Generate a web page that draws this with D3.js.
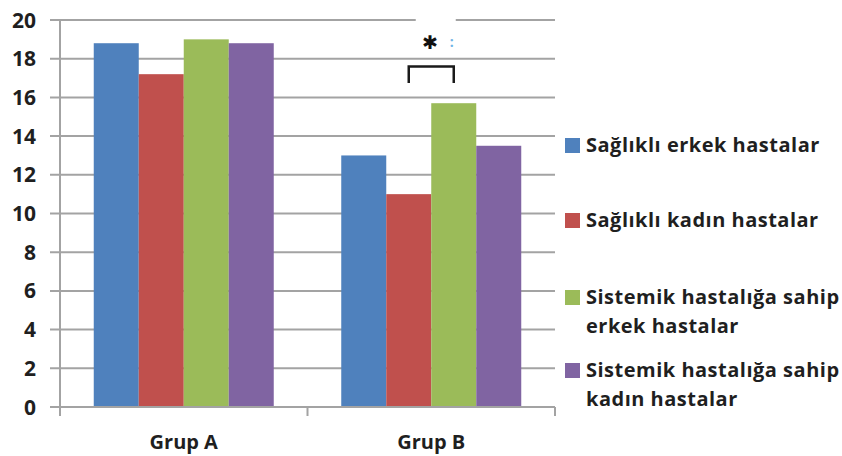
<!DOCTYPE html>
<html>
<head>
<meta charset="utf-8">
<script src="https://cdn.jsdelivr.net/npm/d3@7"></script>
<style>
  html, body { margin: 0; padding: 0; background: #fff; }
  svg text { font-family: "Open Sans", Lato, sans-serif; font-weight: 700; fill: #1f1f1f; }
</style>
</head>
<body>
<svg id="chart" width="842" height="456"></svg>
<script>
// Groups on the x axis
const categories = ["Grup A", "Grup B"];
// Patient series (legend order)
const seriesNames = [
  ["Sağlıklı erkek hastalar"],
  ["Sağlıklı kadın hastalar"],
  ["Sistemik hastalığa sahip", "erkek hastalar"],
  ["Sistemik hastalığa sahip", "kadın hastalar"]
];
const seriesColors = ["#4F81BD", "#C0504D", "#9BBB59", "#8064A2"];
// Values per series, one per group
const healthyMale = [18.8, 13.0];
const healthyFemale = [17.2, 11.0];
const systemicMale = [19.0, 15.7];
const systemicFemale = [18.8, 13.5];
const seriesValues = [healthyMale, healthyFemale, systemicMale, systemicFemale];
// Y axis ticks
const yTicks = [0, 2, 4, 6, 8, 10, 12, 14, 16, 18, 20];
// Significance bracket in Grup B between the red and green bars
const bracket = { group: "Grup B", from: 1, to: 2, top: 17.6, bottom: 16.75, mark: 18.85 };

const svg = d3.select("#chart");
const plotLeft = 60, plotRight = 555, plotTop = 20, plotBottom = 407;

const x = d3.scaleBand().domain(categories).range([plotLeft, plotRight]).padding(0);
const xi = d3.scaleBand().domain(d3.range(seriesValues.length))
  .range([0, x.bandwidth()]).paddingInner(0).paddingOuter(0.75);
const y = d3.scaleLinear().domain([0, 20]).range([plotBottom, plotTop]);

const gridColor = "#a3a3a3";

// Horizontal gridlines with left tick stubs
svg.append("g").selectAll("line").data(yTicks).join("line")
  .attr("x1", plotLeft - 10).attr("x2", plotRight)
  .attr("y1", d => y(d)).attr("y2", d => y(d))
  .attr("stroke", gridColor).attr("stroke-width", 2);

// Y tick labels
svg.append("g").selectAll("text").data(yTicks).join("text")
  .attr("x", 36).attr("y", d => y(d)).attr("dy", "0.36em")
  .attr("text-anchor", "end").attr("font-size", 21)
  .text(d => d);

// Bars
const gBars = svg.append("g");
seriesValues.forEach((vals, s) => {
  gBars.selectAll(null).data(vals).join("rect")
    .attr("x", (d, i) => x(categories[i]) + xi(s))
    .attr("width", xi.bandwidth())
    .attr("y", d => y(d))
    .attr("height", d => y(0) - y(d))
    .attr("fill", seriesColors[s]);
});

// Axis lines
svg.append("line").attr("x1", plotLeft).attr("x2", plotLeft).attr("y1", plotTop).attr("y2", plotBottom + 9)
  .attr("stroke", gridColor).attr("stroke-width", 2);
svg.append("line").attr("x1", plotLeft - 10).attr("x2", plotRight).attr("y1", plotBottom).attr("y2", plotBottom)
  .attr("stroke", gridColor).attr("stroke-width", 2);
// Category boundary ticks
const bounds = categories.map(c => x(c)).concat([plotRight]);
svg.append("g").selectAll("line").data(bounds).join("line")
  .attr("x1", d => d).attr("x2", d => d).attr("y1", plotBottom).attr("y2", plotBottom + 9)
  .attr("stroke", gridColor).attr("stroke-width", 2);

// Category labels
svg.append("g").selectAll("text").data(categories).join("text")
  .attr("x", d => x(d) + x.bandwidth() / 2).attr("y", 449)
  .attr("text-anchor", "middle").attr("font-size", 20)
  .text(d => d);

// Significance annotation
const bx0 = x(bracket.group) + xi(bracket.from) + xi.bandwidth() / 2;
const bx1 = x(bracket.group) + xi(bracket.to) + xi.bandwidth() / 2;
svg.append("rect").attr("x", bx0 + 7).attr("y", 13).attr("width", bx1 - bx0 - 5).attr("height", 44)
  .attr("fill", "#fff");
svg.append("path")
  .attr("d", `M${bx0},${y(bracket.bottom)}V${y(bracket.top)}H${bx1}V${y(bracket.bottom)}`)
  .attr("fill", "none").attr("stroke", "#1a1a1a").attr("stroke-width", 2.5);
svg.append("text")
  .attr("x", (bx0 + bx1) / 2 - 1).attr("y", y(bracket.mark)).attr("dy", "0.36em")
  .attr("text-anchor", "middle").attr("font-size", 19)
  .style("font-family", "'DejaVu Sans'").style("fill", "#111")
  .text("✱");
svg.append("text")
  .attr("x", bx1 - 2).attr("y", y(bracket.mark)).attr("dy", "0.36em")
  .attr("text-anchor", "middle").attr("font-size", 14)
  .style("fill", "#6fb4e6")
  .text(":");

// Legend
const legendRows = [145, 220, 297, 370];
const legend = svg.append("g");
seriesNames.forEach((lines, s) => {
  const ly = legendRows[s];
  legend.append("rect").attr("x", 565).attr("y", ly - 7).attr("width", 15).attr("height", 15)
    .attr("fill", seriesColors[s]);
  lines.forEach((t, k) => {
    legend.append("text").attr("x", 586).attr("y", ly + k * 29).attr("dy", "0.36em")
      .attr("font-size", 20).attr("letter-spacing", 0.5).text(t);
  });
});
</script>
</body>
</html>
